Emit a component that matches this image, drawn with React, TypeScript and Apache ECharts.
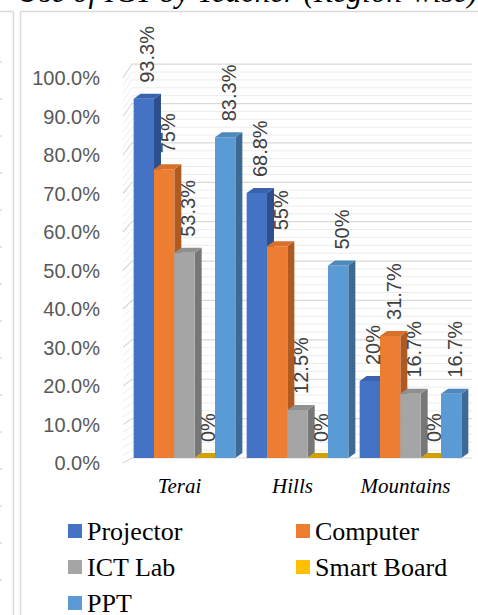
import { useEffect, useRef } from "react";
import * as echarts from "echarts";

// Regions (categories) and the share of teachers using each facility, in %
const regions = ["Terai", "Hills", "Mountains"];
const projector = [93.3, 68.8, 20];
const computer = [75, 55, 31.7];
const ictLab = [53.3, 12.5, 16.7];
const smartBoard = [0, 0, 0];
const ppt = [83.3, 50, 16.7];

// Value axis
const axisMin = 0;
const axisMax = 100;
const axisStep = 10;
const wallStep = 2; // minor wall lines

type Facility = { name: string; values: number[]; front: string; top: string; side: string };

const facilities: Facility[] = [
  { name: "Projector", values: projector, front: "#4472C4", top: "#3A62AE", side: "#2E4F8D" },
  { name: "Computer", values: computer, front: "#ED7D31", top: "#D8702A", side: "#AE5A20" },
  { name: "ICT Lab", values: ictLab, front: "#A5A5A5", top: "#909090", side: "#777777" },
  { name: "Smart Board", values: smartBoard, front: "#FFC000", top: "#D4A000", side: "#B58800" },
  { name: "PPT", values: ppt, front: "#5B9BD5", top: "#4F88BD", side: "#3D6993" },
];

// 3-D look
const DEPTH_X = 7;
const DEPTH_Y = 5;
const BASE_SHIFT = 5; // bars stand slightly behind the front edge of the floor
const GROUP_FILL = 0.9; // share of a category band covered by its bars
const WALL_SCALE = 1.023; // back wall is drawn a little taller than the front edge
const WALL_BACK_DX = 9;

const SANS = "Liberation Sans";
const SERIF = "Liberation Serif";

const fmtPct = (v: number) => `${v}%`;

function barGeometry(api: any, cat: number, value: number, idx: number) {
  const [cx, y] = api.coord([cat, value]);
  const [, y0] = api.coord([cat, 0]);
  const band = api.size([1, 0])[0];
  const w = (band * GROUP_FILL) / facilities.length;
  const x0 = cx - (band * GROUP_FILL) / 2 + idx * w;
  return { x0, w, yt: y - BASE_SHIFT, yb: y0 - BASE_SHIFT };
}

export default function App() {
  const ref = useRef<HTMLDivElement>(null);

  useEffect(() => {
    if (!ref.current) return;
    const chart = echarts.init(ref.current, undefined, { renderer: "svg" });

    const wallValues: number[] = [];
    for (let v = axisMin; v <= axisMax; v += wallStep) wallValues.push(v);

    const wallSeries = {
      type: "custom",
      name: "wall",
      silent: true,
      z: 1,
      data: wallValues.map((v) => [0, v]),
      renderItem: (params: any, api: any) => {
        const v = api.value(1);
        const cs = params.coordSys;
        const yf = api.coord([0, v])[1];
        const floor = api.coord([0, 0])[1];
        const yb = floor - BASE_SHIFT - (floor - yf) * WALL_SCALE;
        const major = v % axisStep === 0;
        return {
          type: "polyline",
          shape: {
            points: [
              [cs.x - 5, yf],
              [cs.x - 5 + WALL_BACK_DX, yb],
              [cs.x + cs.width + 5, yb],
            ],
          },
          style: { stroke: major ? "#d9d9d9" : "#ececec", lineWidth: major ? 1.2 : 1, fill: "none" },
        };
      },
    };

    const barSeries = facilities.map((f, idx) => ({
      type: "custom",
      name: f.name,
      z: 2 + idx,
      itemStyle: { color: f.front },
      data: f.values.map((v, c) => [c, v]),
      renderItem: (_params: any, api: any) => {
        const { x0, w, yt, yb } = barGeometry(api, api.value(0), api.value(1), idx);
        const children: any[] = [];
        if (yb - yt > 0.5) {
          children.push({
            type: "polygon",
            shape: {
              points: [
                [x0 + w, yt],
                [x0 + w + DEPTH_X, yt - DEPTH_Y],
                [x0 + w + DEPTH_X, yb - DEPTH_Y],
                [x0 + w, yb],
              ],
            },
            style: { fill: f.side },
          });
          children.push({
            type: "rect",
            shape: { x: x0, y: yt, width: w, height: yb - yt },
            style: { fill: f.front },
          });
        }
        children.push({
          type: "polygon",
          shape: {
            points: [
              [x0, yt],
              [x0 + w, yt],
              [x0 + w + DEPTH_X, yt - DEPTH_Y],
              [x0 + DEPTH_X, yt - DEPTH_Y],
            ],
          },
          style: { fill: f.top },
        });
        return { type: "group", children };
      },
    }));

    // value labels, drawn above every bar
    const labelData: number[][] = [];
    facilities.forEach((f, idx) => f.values.forEach((v, c) => labelData.push([c, v, idx])));
    const labelSeries = {
      type: "custom",
      name: "labels",
      silent: true,
      z: 20,
      data: labelData,
      renderItem: (_params: any, api: any) => {
        const v = api.value(1);
        const idx = api.value(2);
        const { x0, w, yt } = barGeometry(api, api.value(0), v, idx);
        return {
          type: "text",
          x: x0 + w / 2 + DEPTH_X / 2,
          y: yt - 16,
          rotation: Math.PI / 2,
          style: {
            text: fmtPct(v),
            fill: "#404040",
            font: `20px "${SANS}"`,
            align: "left",
            verticalAlign: "middle",
          },
        };
      },
    };

    const legendCommon = {
      orient: "vertical",
      icon: "rect",
      itemWidth: 14,
      itemHeight: 14,
      itemGap: 10,
      padding: 0,
      height: 120,
      selectedMode: false,
      textStyle: { fontFamily: SERIF, fontSize: 26, lineHeight: 26, color: "#000" },
    };

    const edgeMarks: any[] = [];
    for (let k = 0; k < 16; k++) {
      edgeMarks.push({
        type: "line",
        shape: { x1: 0, y1: 62 + k * 37, x2: 2, y2: 62 + k * 37 },
        style: { stroke: "#c8c8c8", lineWidth: 1 },
        silent: true,
      });
    }

    chart.setOption({
      animation: false,
      backgroundColor: "#ffffff",
      grid: { left: 128, right: 11, top: 78, bottom: 152 },
      xAxis: {
        type: "category",
        data: regions,
        axisLine: { show: false },
        axisTick: { show: false },
        axisLabel: {
          interval: 0,
          fontFamily: SERIF,
          fontStyle: "italic",
          fontSize: 21,
          color: "#000",
          margin: 12,
          padding: [0, 10, 0, 0],
        },
      },
      yAxis: {
        type: "value",
        min: axisMin,
        max: axisMax,
        interval: axisStep,
        axisLine: { show: false },
        axisTick: { show: false },
        splitLine: { show: false },
        axisLabel: {
          formatter: (v: number) => `${v.toFixed(1)}%`,
          fontFamily: SANS,
          fontSize: 20,
          color: "#595959",
          margin: 28,
          padding: [5, 0, 0, 0],
        },
      },
      legend: [
        { ...legendCommon, data: ["Projector", "ICT Lab", "PPT"], left: 68, top: 518 },
        { ...legendCommon, data: ["Computer", "Smart Board"], left: 296, top: 518 },
      ],
      graphic: [
        {
          type: "text",
          left: 17,
          top: -24,
          style: {
            text: "Use of ICT by Teacher (Region-wise)",
            font: `italic 31px "${SERIF}"`,
            fill: "#000",
          },
          silent: true,
        },
        { type: "line", shape: { x1: 0, y1: 11.5, x2: 13.5, y2: 11.5 }, style: { stroke: "#d9d9d9", lineWidth: 1.5 }, silent: true },
        { type: "line", shape: { x1: 13.5, y1: 11.5, x2: 13.5, y2: 615 }, style: { stroke: "#d9d9d9", lineWidth: 1.5 }, silent: true },
        { type: "line", shape: { x1: 20.5, y1: 11.5, x2: 478, y2: 11.5 }, style: { stroke: "#d9d9d9", lineWidth: 1.5 }, silent: true },
        { type: "line", shape: { x1: 20.5, y1: 11.5, x2: 20.5, y2: 615 }, style: { stroke: "#d9d9d9", lineWidth: 1.5 }, silent: true },
        ...edgeMarks,
      ],
      series: [wallSeries, ...barSeries, labelSeries],
    });

    return () => chart.dispose();
  }, []);

  return (
    <div
      ref={ref}
      style={{ position: "fixed", left: 0, top: 0, width: 478, height: 615, background: "#fff" }}
    />
  );
}
